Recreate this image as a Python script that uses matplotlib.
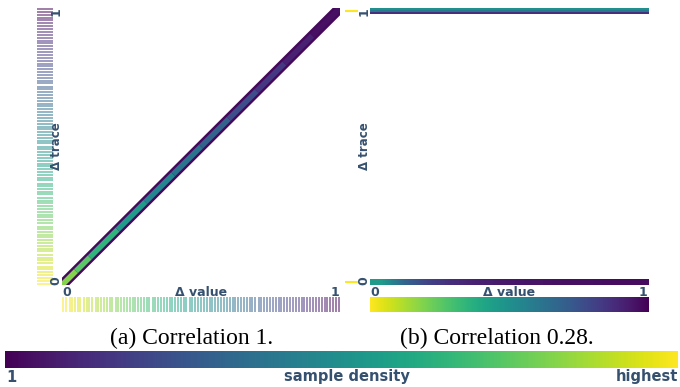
import numpy as np
import matplotlib.pyplot as plt
from matplotlib.collections import LineCollection

W, H = 680, 387
TXT = "#35516f"
cmap = plt.get_cmap("viridis")

# (a) correlation 1: samples lie on the diagonal (value == trace)
a_samples = [0.004, 0.016, 0.027, 0.035, 0.047, 0.058, 0.066, 0.078, 0.089, 0.097,
             0.108, 0.121, 0.130, 0.139, 0.152, 0.161, 0.172, 0.180, 0.193, 0.203,
             0.211, 0.224, 0.233, 0.245, 0.254, 0.262, 0.275, 0.284, 0.296, 0.305,
             0.314, 0.327, 0.336, 0.345, 0.357, 0.366, 0.378, 0.387, 0.396, 0.408,
             0.417, 0.429, 0.438, 0.447, 0.459, 0.468, 0.479, 0.490, 0.499, 0.511,
             0.520, 0.531, 0.541, 0.551, 0.562, 0.572, 0.583, 0.592, 0.603, 0.614,
             0.623, 0.634, 0.645, 0.654, 0.665, 0.676, 0.685, 0.696, 0.707, 0.716,
             0.728, 0.737, 0.747, 0.759, 0.768, 0.779, 0.789, 0.799, 0.810, 0.820,
             0.831, 0.841, 0.851, 0.862, 0.872, 0.882, 0.893, 0.903, 0.913, 0.924,
             0.934, 0.945, 0.955, 0.965, 0.976, 0.986, 0.996]
diag_pos = [0.0, 0.05, 0.1, 0.2, 0.3, 0.4, 0.5, 0.6, 0.7, 0.8, 0.9, 1.0]
diag_density = [0.85, 0.78, 0.70, 0.60, 0.50, 0.42, 0.35, 0.27, 0.20, 0.12, 0.06, 0.02]

# (b) correlation 0.28: trace is either 0 or 1
b_trace_levels = [0.0, 1.0]
b_top_rows = [0.50, 0.40, 0.14]          # density, top row -> bottom row, at trace 1
b_bottom_profile = [0.55, 0.32, 0.20, 0.13, 0.09, 0.07, 0.06, 0.05, 0.04, 0.04, 0.03, 0.03]

captions = ["(a) Correlation 1.", "(b) Correlation 0.28."]
cbar_labels = ["1", "sample density", "highest"]

fig = plt.figure(figsize=(W / 100, H / 100), dpi=100)


def px_axes(x0, y0, x1, y1):
    ax = fig.add_axes([x0 / W, 1 - y1 / H, (x1 - x0) / W, (y1 - y0) / H])
    ax.set_axis_off()
    return ax


def ftext(x, y, s, **kw):
    fig.text(x / W, 1 - y / H, s, color=TXT, fontweight="bold", **kw)


# ---- panel (a)
ax = px_axes(62, 8, 340, 285)
ax.set_xlim(0, 1)
ax.set_ylim(0, 1)
ax.plot([0, 1], [0, 1], color=cmap(0.02), lw=7.5, solid_capstyle="butt")
pts = np.array([diag_pos, diag_pos]).T.reshape(-1, 1, 2)
segs = np.concatenate([pts[:-1], pts[1:]], axis=1)
dens = [(diag_density[i] + diag_density[i + 1]) / 2 for i in range(len(diag_density) - 1)]
ax.add_collection(LineCollection(segs, colors=cmap(dens), lw=4, capstyle="butt"))

ax = px_axes(37, 8, 53, 285)
ax.set_xlim(0, 1)
ax.set_ylim(0, 1)
for s in a_samples:
    ax.axhline(s, color=cmap(1 - s), alpha=0.6, lw=1.2)

ax = px_axes(62, 297, 340, 312)
ax.set_xlim(0, 1)
ax.set_ylim(0, 1)
for s in a_samples:
    ax.axvline(s, color=cmap(1 - s), alpha=0.6, lw=1.2)

# ---- panel (b)
ax = px_axes(370, 8, 648, 285)
ax.set_xlim(0, 1)
ax.set_ylim(0, 1)
ax.imshow(np.array(b_top_rows)[:, None], cmap="viridis", vmin=0, vmax=1,
          extent=(0, 1, 0.98, 1.0), aspect="auto", interpolation="nearest")
ax.imshow(np.array([b_bottom_profile]), cmap="viridis", vmin=0, vmax=1,
          extent=(0, 1, 0.0, 0.02), aspect="auto", interpolation="bilinear")

ax = px_axes(345, 8, 358, 285)
ax.set_xlim(0, 1)
ax.set_ylim(-0.01, 1.01)
for t in b_trace_levels:
    ax.axhline(t, color=cmap(1.0), lw=1.5)

ax = px_axes(370, 297, 648, 312)
ax.imshow(np.linspace(1, 0, 256)[None, :], cmap="viridis", aspect="auto")

# ---- axis texts
for x0, x1 in [(62, 340), (370, 648)]:
    ftext(x0 + 5, 292, "0", fontsize=9, ha="center", va="center")
    ftext(x1 - 5, 292, "1", fontsize=9, ha="center", va="center")
    ftext((x0 + x1) / 2, 292, "Δ value", fontsize=9, ha="center", va="center")
    ftext(x0 - 6, 12, "1", fontsize=9, ha="center", va="center", rotation=90)
    ftext(x0 - 6, 281, "0", fontsize=9, ha="center", va="center", rotation=90)
    ftext(x0 - 6, 146, "Δ trace", fontsize=8.5, ha="center", va="center", rotation=90)

for cx, cap in zip([192, 497], captions):
    fig.text(cx / W, 1 - 338 / H, cap, fontsize=17, family="Liberation Serif",
             ha="center", va="center")

# ---- colour bar
ax = px_axes(5, 351, 678, 368)
ax.imshow(np.linspace(0, 1, 256)[None, :], cmap="viridis", aspect="auto")
ftext(6, 377, cbar_labels[0], fontsize=10.5, ha="left", va="center")
ftext(347, 377, cbar_labels[1], fontsize=10.5, ha="center", va="center")
ftext(678, 377, cbar_labels[2], fontsize=10.5, ha="right", va="center")

fig.savefig("out.png", dpi=100)
